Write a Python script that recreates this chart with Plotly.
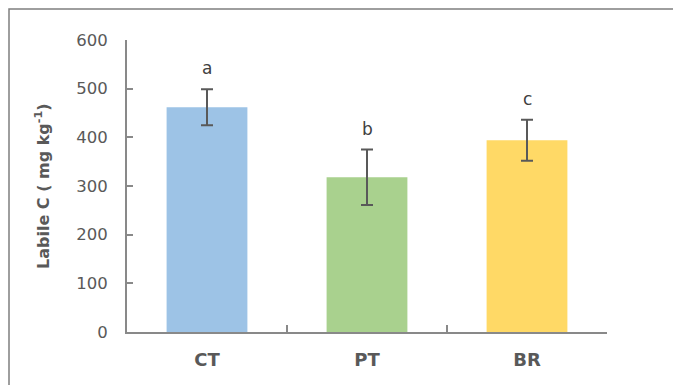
import plotly.graph_objects as go

categories = ["CT", "PT", "BR"]
means = [462, 318, 394]
errors = [37, 57, 42]
letters = ["a", "b", "c"]
colors = ["#9DC3E6", "#A9D18E", "#FFD966"]
y_ticks = [0, 100, 200, 300, 400, 500, 600]

# page body has an 8px margin: figure sits at (8, 8)
OFF = 8
W, H = 681 - OFF, 385 - OFF
L, R, T, B = 127 - OFF, 74, 40 - OFF, 53
pw, ph = W - L - R, H - T - B

fig = go.Figure()
fig.add_trace(go.Bar(
    x=categories, y=means, marker=dict(color=colors, line=dict(width=0)),
    width=0.505,
    error_y=dict(type="data", array=errors, visible=True, color="#595959",
                 thickness=2, width=6),
    showlegend=False, hoverinfo="skip",
))

for c, m, e, l in zip(categories, means, errors, letters):
    fig.add_annotation(x=c, y=m + e, text=l, showarrow=False, yanchor="bottom",
                       yshift=9, font=dict(family="DejaVu Sans", size=17, color="#404040"))

fig.add_annotation(xref="paper", yref="paper", x=(42 - OFF - L) / pw, y=0.5,
                   text="<b>Labile C ( mg kg<sup>-1</sup>)</b>", textangle=-90, showarrow=False,
                   font=dict(family="DejaVu Sans", size=16, color="#595959"),
                   xanchor="center", yanchor="middle")

# outer frame
fig.add_shape(type="rect", xref="paper", yref="paper",
              x0=(1 - L) / pw, x1=(700 - L) / pw,
              y0=1 - (400 - T) / ph, y1=1 + (T - 1) / ph,
              line=dict(color="#7F7F7F", width=1.5), layer="below")

fig.update_layout(
    width=W, height=H, margin=dict(l=L, r=R, t=T, b=B),
    plot_bgcolor="white", paper_bgcolor="white",
    font=dict(family="DejaVu Sans", color="#595959"),
    xaxis=dict(showline=True, linecolor="#898989", linewidth=2, ticks="inside",
               tickson="boundaries", ticklen=7, tickcolor="#898989", tickwidth=2,
               tickfont=dict(size=18, color="#595959", family="DejaVu Sans", weight="bold"),
               showgrid=False, mirror=False, ticklabelstandoff=10),
    yaxis=dict(range=[0, 600], tickvals=y_ticks, showline=True, linecolor="#898989",
               linewidth=2, ticks="inside", ticklen=6, tickcolor="#898989", tickwidth=2,
               tickfont=dict(size=16.5, color="#595959", family="DejaVu Sans"),
               showgrid=False, zeroline=False, ticklabelstandoff=14),
)

fig.write_html("out.html")
